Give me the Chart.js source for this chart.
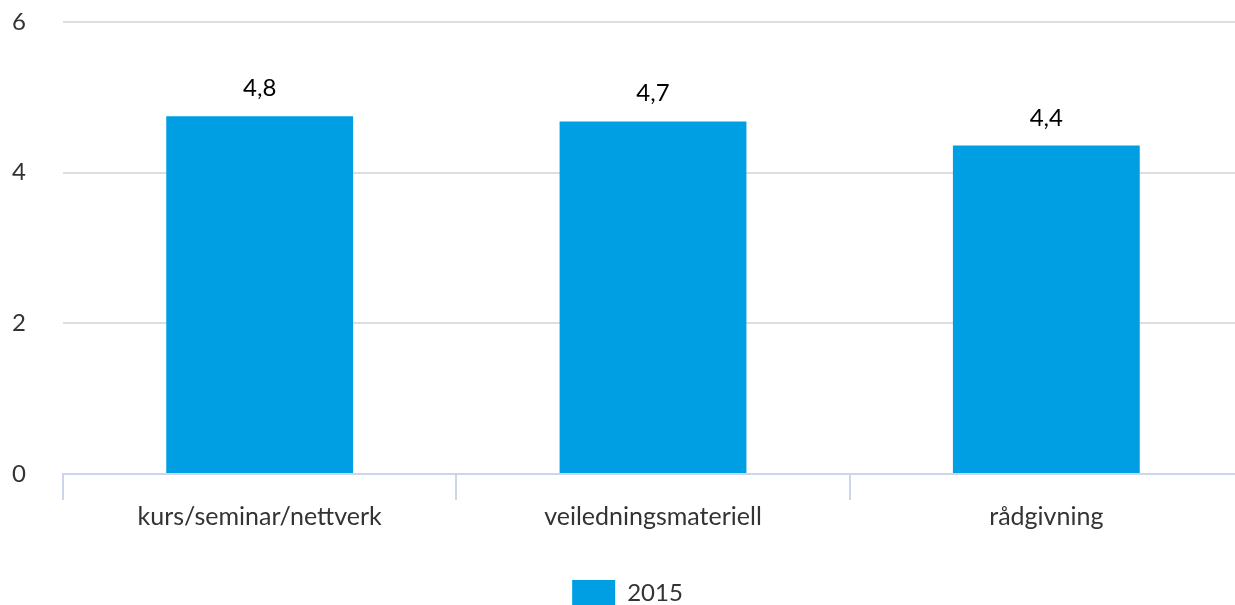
<!DOCTYPE html>
<html>
<head>
<meta charset="utf-8">
<script src="https://cdn.jsdelivr.net/npm/chart.js@4/dist/chart.umd.min.js"></script>
<style>
  html, body { margin: 0; padding: 0; background: #fff; overflow: hidden; }
  #wrap { width: 1243px; height: 605px; }
</style>
</head>
<body>
<div id="wrap"><canvas id="chart"></canvas></div>
<script>
// kategorier og verdier
const categories = ['kurs/seminar/nettverk', 'veiledningsmateriell', 'rådgivning'];
const values2015 = [4.75, 4.68, 4.36];
const seriesName = '2015';
const yTicks = [0, 2, 4, 6];

const barColor = '#009fe3';
const axisColor = '#ccd6eb';
const gridColor = '#dedede';

// egen plugin for verdietiketter over søylene
const valueLabels = {
    id: 'valueLabels',
    afterDatasetsDraw(chart) {
        const ctx = chart.ctx;
        ctx.save();
        ctx.font = '24px Lato';
        ctx.fillStyle = '#000';
        ctx.textAlign = 'center';
        ctx.textBaseline = 'alphabetic';
        chart.getDatasetMeta(0).data.forEach((bar, i) => {
            const txt = values2015[i].toFixed(1).replace('.', ',');
            ctx.fillText(txt, bar.x, bar.y - 20);
        });
        ctx.restore();
    }
};

Chart.defaults.font.family = 'Lato';
Chart.defaults.font.size = 24;
Chart.defaults.color = '#333';

new Chart(document.getElementById('chart').getContext('2d'), {
    type: 'bar',
    data: {
        labels: categories,
        datasets: [{
            label: seriesName,
            data: values2015,
            backgroundColor: barColor,
            borderWidth: 0,
            barPercentage: 0.95,
            categoryPercentage: 0.5
        }]
    },
    options: {
        responsive: true,
        maintainAspectRatio: false,
        animation: false,
        layout: { padding: { top: 22, right: 0, left: 12, bottom: -11 } },
        plugins: {
            legend: {
                position: 'bottom',
                labels: { boxWidth: 43, boxHeight: 26, padding: 0, color: '#333' }
            },
            tooltip: { enabled: false }
        },
        scales: {
            y: {
                min: 0,
                max: 6,
                afterBuildTicks: axis => { axis.ticks = yTicks.map(v => ({ value: v })); },
                afterFit: axis => { axis.width = 51; },
                ticks: { crossAlign: 'far' },
                grid: { color: gridColor, lineWidth: 2, drawTicks: false },
                border: { display: false }
            },
            x: {
                afterFit: axis => { axis.height = 106; },
                grid: {
                    offset: true,
                    drawOnChartArea: false,
                    color: axisColor,
                    lineWidth: 2,
                    tickLength: 26
                },
                border: { color: axisColor, width: 2 },
                ticks: { padding: 2, font: { size: 25 } }
            }
        }
    },
    plugins: [valueLabels]
});
</script>
</body>
</html>
